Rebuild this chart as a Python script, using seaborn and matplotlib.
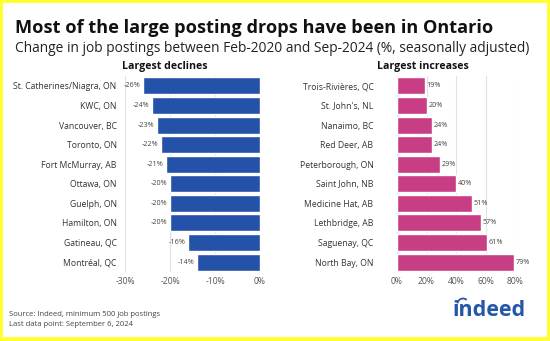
import matplotlib
matplotlib.use("Agg")
import matplotlib.pyplot as plt
import matplotlib.patches as mpatches
import seaborn as sns
import pandas as pd

# Metro areas with the largest drops in job postings
decline_cities = ["St. Catherines/Niagra, ON", "KWC, ON", "Vancouver, BC", "Toronto, ON",
                  "Fort McMurray, AB", "Ottawa, ON", "Guelph, ON", "Hamilton, ON",
                  "Gatineau, QC", "Montréal, QC"]
decline_values = [-26, -24, -23, -22, -21, -20, -20, -20, -16, -14]

# Metro areas with the largest gains
increase_cities = ["Trois-Rivières, QC", "St. John's, NL", "Nanaimo, BC", "Red Deer, AB",
                   "Peterborough, ON", "Saint John, NB", "Medicine Hat, AB", "Lethbridge, AB",
                   "Saguenay, QC", "North Bay, ON"]
increase_values = [19, 20, 24, 24, 29, 40, 51, 57, 61, 79]

decline_ticks = [-30, -20, -10, 0]
increase_ticks = [0, 20, 40, 60, 80]

sns.set_theme(style="white")
plt.rcParams["font.family"] = ["Open Sans", "DejaVu Sans"]

W, H = 550, 341
fig = plt.figure(figsize=(W / 100, H / 100), dpi=100)
fig.patch.set_facecolor("#FFFF33")
fig.patches.append(mpatches.Rectangle((3 / W, 4 / H), (W - 6) / W, (H - 7) / H,
                                      transform=fig.transFigure, facecolor="white",
                                      edgecolor="none", zorder=-1))

BLUE = "#2452A8"
PINK = "#C83E84"
TXT = "#333333"
GRID = "#E2E2E2"

def fx(px):
    return px / W

def fy(py):
    return 1 - py / H

ax_bottom = fy(271.8)
ax_height = (271.8 - 76.2) / H
ax_l = fig.add_axes([fx(125), ax_bottom, fx(135), ax_height])
ax_r = fig.add_axes([fx(397), ax_bottom, fx(118), ax_height])

df_l = pd.DataFrame({"city": decline_cities, "change": decline_values})
df_r = pd.DataFrame({"city": increase_cities, "change": increase_values})

sns.barplot(data=df_l, y="city", x="change", orient="h", color=BLUE, saturation=1,
            width=0.87, ax=ax_l, zorder=3)
sns.barplot(data=df_r, y="city", x="change", orient="h", color=PINK, saturation=1,
            width=0.87, ax=ax_r, zorder=3)

for ax, ticks, lims, pad in [(ax_l, decline_ticks, (-30, 0), 6), (ax_r, increase_ticks, (0, 80), 17)]:
    ax.set_xlim(*lims)
    ax.set_ylim(9.5, -0.5)
    ax.set_xticks(ticks)
    ax.set_xticklabels([f"{t}%" for t in ticks])
    ax.set_xlabel("")
    ax.set_ylabel("")
    for s in ax.spines.values():
        s.set_visible(False)
    ax.grid(axis="x", color=GRID, linewidth=0.8, zorder=0)
    ax.set_axisbelow(True)
    ax.tick_params(axis="x", length=0, labelsize=6.2, labelcolor="#555555", pad=4)
    ax.tick_params(axis="y", length=0, labelsize=6.2, labelcolor=TXT, pad=pad)

for i, v in enumerate(decline_values):
    ax_l.text(v - 0.5, i, f"{v}%", ha="right", va="center", fontsize=5.2, color="#444444")
for i, v in enumerate(increase_values):
    ax_r.text(v + 1.2, i, f"{v}%", ha="left", va="center", fontsize=5.2, color="#444444",
              clip_on=False)

fig.text(fx(15), fy(28), "Most of the large posting drops have been in Ontario",
         fontsize=13.1, fontweight="bold", color="#111111", ha="left", va="center")
fig.text(fx(15), fy(49), "Change in job postings between Feb-2020 and Sep-2024 (%, seasonally adjusted)",
         fontsize=9.95, color="#222222", ha="left", va="center")
fig.text(fx(165), fy(67), "Largest declines", fontsize=7.6, fontweight="bold",
         color="#111111", ha="center", va="center")
fig.text(fx(423), fy(67), "Largest increases", fontsize=7.6, fontweight="bold",
         color="#111111", ha="center", va="center")

fig.text(fx(9), fy(315), "Source: Indeed, minimum 500 job postings", fontsize=5.5,
         color="#444444", ha="left", va="center")
fig.text(fx(9), fy(324), "Last data point: September 6, 2024", fontsize=5.5,
         color="#444444", ha="left", va="center")

fig.text(fx(526), fy(311), "indeed", fontsize=15.5, fontweight="bold", color="#2557A7",
         ha="right", va="center")
fig.patches.append(mpatches.Arc((fx(463), fy(304)), 11 / W, 11 / H, theta1=60, theta2=170,
                                transform=fig.transFigure, color="#2557A7", linewidth=1.3))

fig.savefig("out.png", dpi=100, facecolor=fig.get_facecolor())
